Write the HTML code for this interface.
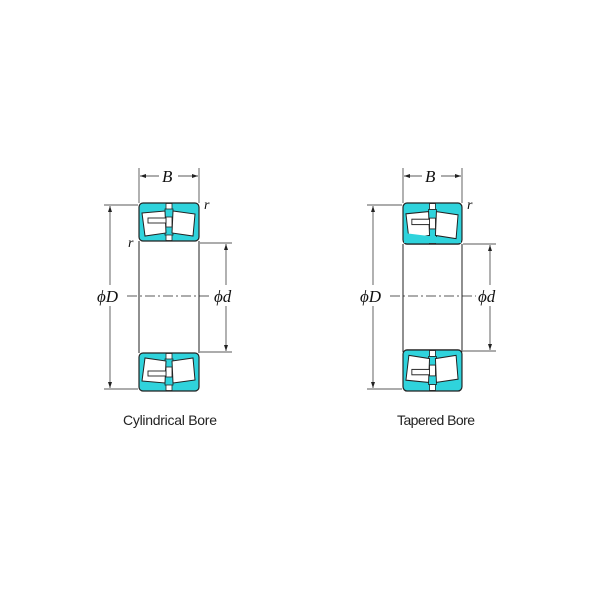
<!DOCTYPE html>
<html><head><meta charset="utf-8"><style>
html,body{margin:0;padding:0;background:#fff;}
svg{display:block;}
.t{font-family:"Liberation Serif",serif;font-style:italic;fill:#111;}
.c{font-family:"Liberation Sans",sans-serif;fill:#222;font-size:14px;}
</style></head><body>
<svg width="600" height="600" viewBox="0 0 600 600" xmlns="http://www.w3.org/2000/svg">
<defs>
<g id="blk">
  <rect x="0" y="0" width="60" height="38" rx="4" fill="#2fd3dc" stroke="#222" stroke-width="1.2"/>
  <rect x="27" y="0.5" width="6" height="37" fill="#fff" stroke="#222" stroke-width="0.8"/>
  <rect x="26" y="6" width="8" height="8" fill="#2fd3dc" stroke="#222" stroke-width="0.8"/>
  <rect x="26" y="24" width="8" height="8" fill="#2fd3dc" stroke="#222" stroke-width="0.8"/>
  <polygon points="3,10 26,8 27,30 6,33" fill="#fff" stroke="#222" stroke-width="1"/>
  <polygon points="34,8 56,11 54,33 33,30" fill="#fff" stroke="#222" stroke-width="1"/>
  <rect x="9" y="15" width="18" height="5" fill="#fff" stroke="#222" stroke-width="0.9"/>
</g>
</defs>
<!-- Left bearing -->
<g stroke="#222" fill="none" stroke-width="1">
  <line x1="139" y1="241" x2="139" y2="353"/>
  <line x1="199" y1="241" x2="199" y2="353"/>
  <line x1="139" y1="168" x2="139" y2="203" stroke-width="0.7"/>
  <line x1="199" y1="168" x2="199" y2="203" stroke-width="0.7"/>
  <line x1="140" y1="176" x2="159" y2="176" stroke-width="0.7"/>
  <line x1="178" y1="176" x2="198" y2="176" stroke-width="0.7"/>
  <line x1="104" y1="205" x2="138" y2="205" stroke-width="0.7"/>
  <line x1="104" y1="389" x2="138" y2="389" stroke-width="0.7"/>
  <line x1="110" y1="206" x2="110" y2="285" stroke-width="0.7"/>
  <line x1="110" y1="306" x2="110" y2="388" stroke-width="0.7"/>
  <line x1="200" y1="243" x2="232" y2="243" stroke-width="0.7"/>
  <line x1="200" y1="352" x2="232" y2="352" stroke-width="0.7"/>
  <line x1="226" y1="244" x2="226" y2="285" stroke-width="0.7"/>
  <line x1="226" y1="306" x2="226" y2="351" stroke-width="0.7"/>
  <line x1="127" y1="296" x2="212" y2="296" stroke-width="0.7" stroke-dasharray="10,3,2,3"/>
</g>
<g fill="#222">
  <polygon points="140,176 146,174 146,178"/><polygon points="198,176 192,174 192,178"/>
  <polygon points="110,206 108,212 112,212"/><polygon points="110,388 108,382 112,382"/>
  <polygon points="226,244 224,250 228,250"/><polygon points="226,351 224,345 228,345"/>
</g>
<use href="#blk" x="139" y="203"/>
<use href="#blk" transform="translate(139,391) scale(1,-1)"/>
<text class="t" x="162" y="182" font-size="17">B</text>
<text class="t" x="204" y="209" font-size="14">r</text>
<text class="t" x="128" y="247" font-size="14">r</text>
<text class="t" x="97" y="302" font-size="17">ϕD</text>
<text class="t" x="214" y="302" font-size="17">ϕd</text>
<text class="c" x="123" y="425" textLength="94">Cylindrical Bore</text>

<!-- Right bearing -->
<g stroke="#222" fill="none" stroke-width="1">
  <line x1="403" y1="244" x2="403" y2="352"/>
  <line x1="462" y1="244" x2="462" y2="352"/>
  <line x1="403" y1="168" x2="403" y2="203" stroke-width="0.7"/>
  <line x1="462" y1="168" x2="462" y2="203" stroke-width="0.7"/>
  <line x1="404" y1="176" x2="422" y2="176" stroke-width="0.7"/>
  <line x1="441" y1="176" x2="461" y2="176" stroke-width="0.7"/>
  <line x1="367" y1="205" x2="402" y2="205" stroke-width="0.7"/>
  <line x1="367" y1="389" x2="402" y2="389" stroke-width="0.7"/>
  <line x1="373" y1="206" x2="373" y2="285" stroke-width="0.7"/>
  <line x1="373" y1="306" x2="373" y2="388" stroke-width="0.7"/>
  <line x1="463" y1="244" x2="496" y2="244" stroke-width="0.7"/>
  <line x1="463" y1="351" x2="496" y2="351" stroke-width="0.7"/>
  <line x1="490" y1="245" x2="490" y2="285" stroke-width="0.7"/>
  <line x1="490" y1="306" x2="490" y2="350" stroke-width="0.7"/>
  <line x1="390" y1="296" x2="476" y2="296" stroke-width="0.7" stroke-dasharray="10,3,2,3"/>
</g>
<g fill="#222">
  <polygon points="404,176 410,174 410,178"/><polygon points="461,176 455,174 455,178"/>
  <polygon points="373,206 371,212 375,212"/><polygon points="373,388 371,382 375,382"/>
  <polygon points="490,245 488,251 492,251"/><polygon points="490,350 488,344 492,344"/>
</g>
<g transform="translate(403,203) scale(0.983,1.08)"><use href="#blk"/></g>
<polygon points="404,233 461,240 461,243 404,243" fill="#2fd3dc"/>
<g transform="translate(403,391) scale(0.983,-1.08)"><use href="#blk"/></g>
<text class="t" x="425" y="182" font-size="17">B</text>
<text class="t" x="467" y="209" font-size="14">r</text>
<text class="t" x="360" y="302" font-size="17">ϕD</text>
<text class="t" x="478" y="302" font-size="17">ϕd</text>
<text class="c" x="397" y="425" textLength="78">Tapered Bore</text>
</svg>
</body></html>
